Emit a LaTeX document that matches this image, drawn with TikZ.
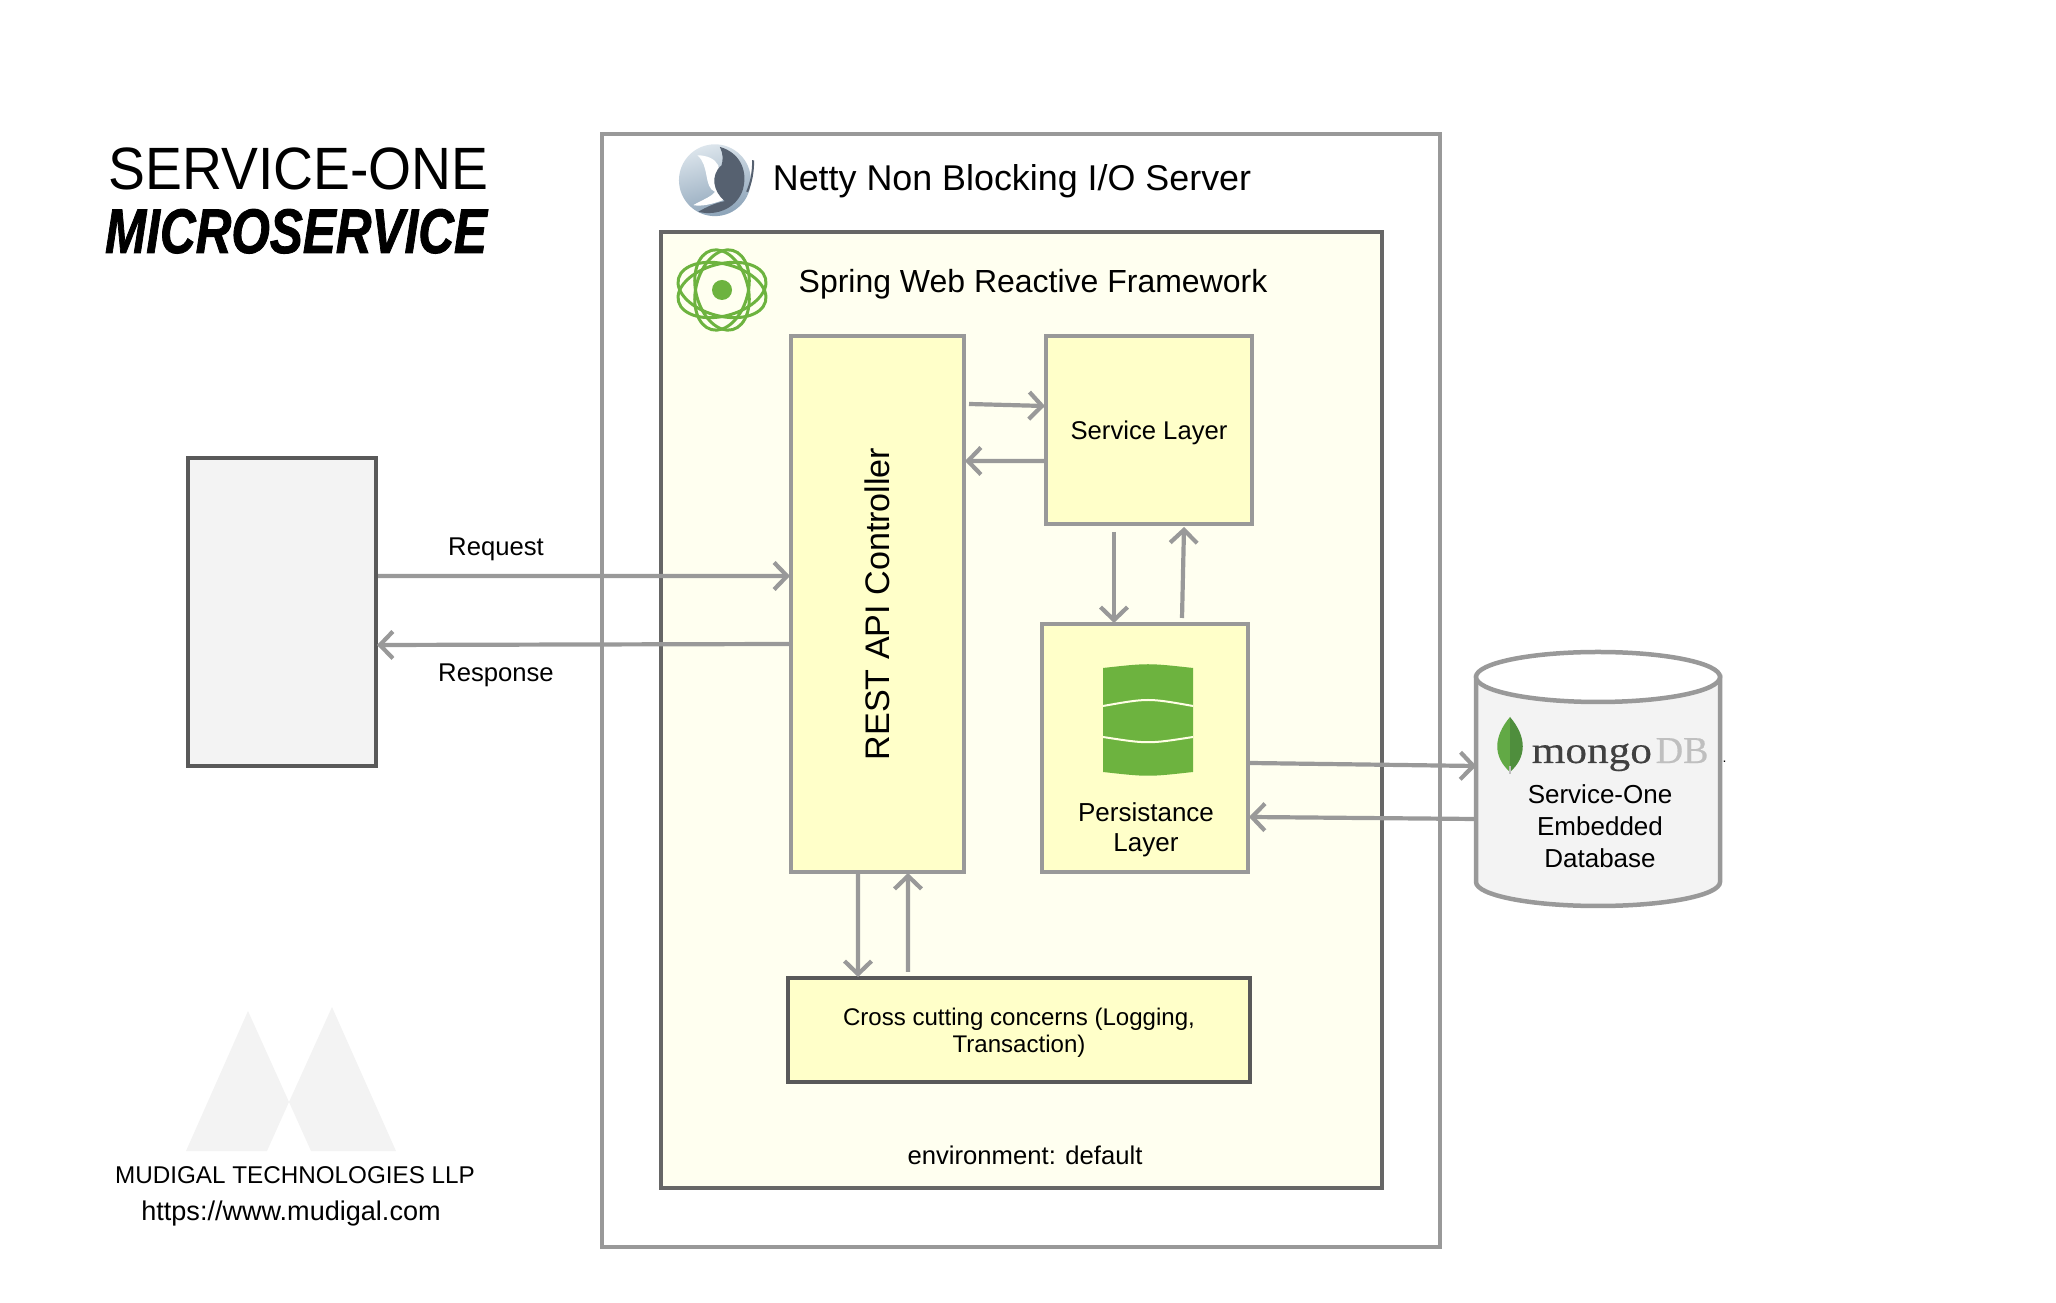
\documentclass[tikz,border=0pt]{standalone}
\usepackage{fontspec}
\setmainfont{Liberation Sans}
\newfontfamily\brushfont[FakeBold=1.5]{Liberation Sans}
\newfontfamily\mongofont[FakeBold=0.4]{Liberation Serif}
\usetikzlibrary{arrows.meta}
\definecolor{linegray}{HTML}{999999}
\definecolor{innergray}{HTML}{666666}
\definecolor{crossgray}{HTML}{595959}
\definecolor{paleyellow}{HTML}{FFFFF0}
\definecolor{boxyellow}{HTML}{FFFFC9}
\definecolor{panelgray}{HTML}{F3F3F3}
\definecolor{springgreen}{HTML}{6DB33F}
\definecolor{ballblue}{HTML}{DCE5EC}
\definecolor{balldark}{HTML}{8DA4B9}
\definecolor{wingslate}{HTML}{566170}
\definecolor{leafleft}{HTML}{62A945}
\definecolor{leafright}{HTML}{4F8E3D}
\tikzset{
    layerbox/.style={draw=linegray, line width=0.04cm, fill=boxyellow, inner sep=0pt, align=center, font=\fontsize{7.3}{8.6}\selectfont},
    textnode/.style={inner sep=0pt, align=center, font=\fontsize{7.3}{8.8}\selectfont},
    flow/.style={draw=linegray, line width=0.042cm, shorten >=-0.01cm, -{Straight Barb[length=0.13cm,width=0.27cm,line width=0.042cm]}},
}
\begin{document}
\begin{tikzpicture}
    \useasboundingbox (0,0) rectangle (20.56,13.02);

    % Title
    \node[anchor=base, inner sep=0pt] (titletop) at (2.985,11.12) {\fontsize{17}{20}\selectfont\scalebox{0.925}[1]{SERVICE-ONE}};
    \node[anchor=base, inner sep=0pt] (titlesub) at (2.96,10.49) {\fontsize{17.9}{20}\selectfont\brushfont\bfseries\itshape\scalebox{0.786}[1]{MICROSERVICE}};

    % Server and framework panels
    \node[draw=linegray, line width=0.04cm, minimum width=8.38cm, minimum height=11.13cm, inner sep=0pt] (netty) at (10.21,6.115) {};
    \node[draw=innergray, line width=0.04cm, fill=paleyellow, minimum width=7.21cm, minimum height=9.56cm, inner sep=0pt] (spring) at (10.215,5.92) {};
    \node[textnode, font=\fontsize{10.2}{12}\selectfont] (nettytext) at (10.12,11.21) {Netty Non Blocking I/O Server};
    \node[textnode, font=\fontsize{9.1}{11}\selectfont] (springtext) at (10.33,10.175) {Spring Web Reactive Framework};
    \node[textnode] (envtext) at (10.25,1.465) {environment: default};

    % Netty logo
    \begin{scope}[shift={(6.6,11.70)}, x=0.00333cm, y=-0.00333cm]
        \shade[top color=ballblue, bottom color=balldark, shading angle=15] (165,145) circle (108);
        \fill[white] (112,70) .. controls (140,70) and (165,80) .. (175,100) -- (190,205) .. controls (160,215) and (130,225) .. (100,220) .. controls (125,205) and (155,195) .. (165,180) .. controls (130,165) and (150,100) .. (112,70) -- cycle;
        \fill[wingslate] (180,45) .. controls (235,60) and (265,110) .. (250,170) .. controls (235,225) and (175,255) .. (115,240) .. controls (140,225) and (170,212) .. (195,208) .. controls (160,180) and (150,130) .. (185,100) .. controls (190,85) and (190,65) .. (180,45) -- cycle;
        \draw[wingslate, line width=0.02cm] (280,85) .. controls (280,120) and (275,150) .. (262,180);
    \end{scope}

    % Spring logo
    \foreach \ang/\len in {15/0.45,-15/0.45,75/0.41,105/0.41} {
        \draw[springgreen, line width=0.03cm, rotate around={\ang:(7.22,10.12)}] (7.22,10.12) ellipse [x radius=\len, y radius=0.26];
    }
    \fill[springgreen] (7.22,10.12) circle (0.10);

    % Layers
    \node[layerbox, minimum width=1.73cm, minimum height=5.36cm] (rest) at (8.775,6.98) {};
    \node[rotate=90, textnode, font=\fontsize{9.7}{12}\selectfont] (resttext) at (rest) {REST API Controller};
    \node[layerbox, text depth=0pt, minimum width=2.06cm, minimum height=1.88cm] (service) at (11.49,8.72) {Service Layer};
    \node[layerbox, minimum width=2.06cm, minimum height=2.48cm] (persist) at (11.45,5.54) {};
    \node[textnode, font=\fontsize{7.4}{8.6}\selectfont] (persisttext) at (11.46,4.725) {Persistance\\Layer};
    \node[layerbox, draw=crossgray, minimum width=4.62cm, minimum height=1.04cm] (cross) at (10.19,2.72) {};
    \node[textnode, font=\fontsize{6.85}{7.8}\selectfont] (crosstext) at (10.19,2.695) {Cross cutting concerns (Logging,\\Transaction)};

    % Database icon
    \fill[springgreen] (11.03,6.34) .. controls (11.48,6.39) .. (11.93,6.34) -- (11.93,5.30) .. controls (11.48,5.25) .. (11.03,5.30) -- cycle;
    \draw[white!90!yellow, line width=0.02cm] (11.03,5.96) .. controls (11.48,6.04) .. (11.93,5.96);
    \draw[white!90!yellow, line width=0.02cm] (11.03,5.65) .. controls (11.48,5.58) .. (11.93,5.65);

    % Client
    \node[draw=crossgray, line width=0.04cm, fill=panelgray, minimum width=1.88cm, minimum height=3.08cm, inner sep=0pt] (client) at (2.82,6.90) {};

    % Embedded database
    \node[minimum width=2.44cm, minimum height=2.54cm, inner sep=0pt] (mongo) at (15.98,5.23) {};
    \draw[linegray, line width=0.045cm, fill=panelgray] (14.76,6.25) -- (14.76,4.20) arc[start angle=180, end angle=360, x radius=1.22, y radius=0.24] -- (17.20,6.25) -- cycle;
    \draw[linegray, line width=0.045cm, fill=white] (15.98,6.25) ellipse (1.22 and 0.25);
    \fill[leafleft] (15.10,5.85) .. controls (14.93,5.65) and (14.93,5.45) .. (15.10,5.30) -- cycle;
    \fill[leafright] (15.10,5.85) .. controls (15.27,5.65) and (15.27,5.45) .. (15.10,5.30) -- cycle;
    \draw[black!25, line width=0.015cm] (15.10,5.36) -- (15.10,5.28);
    \node[anchor=base west, inner sep=0pt, text=black!75] (mongotext) at (15.31,5.39) {\fontsize{10.8}{12}\selectfont\mongofont\scalebox{1.14}[1]{mongo}};
    \node[anchor=base west, inner sep=0pt, text=black!25] (dbtext) at (16.55,5.39) {\fontsize{10.8}{12}\selectfont\mongofont DB};
    \node[anchor=base west, inner sep=0pt] (dbmark) at (17.22,5.39) {\fontsize{4}{5}\selectfont .};
    \node[textnode, font=\fontsize{7.4}{9.1}\selectfont] (mongolabel) at (16.00,4.76) {Service-One\\Embedded\\Database};

    % Connectors
    \draw[flow] ([yshift=0.36cm]client.east) -- ([yshift=0.28cm]rest.west);
    \draw[flow] ([yshift=-0.40cm]rest.west) -- ([yshift=-0.33cm]client.east);
    \draw[flow] ([xshift=0.03cm,yshift=2.00cm]rest.east) -- ([yshift=0.24cm]service.west);
    \draw[flow] ([yshift=-0.31cm]service.west) -- ([yshift=1.43cm]rest.east);
    \draw[flow] ([xshift=-0.35cm,yshift=-0.06cm]service.south) -- ([xshift=-0.31cm]persist.north);
    \draw[flow] ([xshift=0.37cm,yshift=0.04cm]persist.north) -- ([xshift=0.35cm,yshift=-0.02cm]service.south);
    \draw[flow] ([yshift=-0.15cm]persist.east) -- ([yshift=0.13cm]mongo.west);
    \draw[flow] ([yshift=-0.40cm]mongo.west) -- ([yshift=-0.69cm]persist.east);
    \draw[flow] ([xshift=-0.195cm]rest.south) -- ([xshift=-1.61cm]cross.north);
    \draw[flow] ([xshift=-1.11cm,yshift=0.04cm]cross.north) -- ([xshift=0.305cm]rest.south);

    \node[textnode] (requesttext) at (4.96,7.525) {Request};
    \node[textnode] (responsetext) at (4.96,6.265) {Response};

    % Company logo
    \fill[panelgray] (1.86,1.51) -- (2.48,2.91) -- (2.89,2.00) -- (2.67,1.51) -- cycle;
    \fill[panelgray] (2.89,2.00) -- (3.32,2.95) -- (3.96,1.51) -- (3.11,1.51) -- cycle;
    \node[textnode, font=\fontsize{6.9}{8}\selectfont] (company) at (2.95,1.27) {MUDIGAL TECHNOLOGIES LLP};
    \node[textnode, font=\fontsize{7.7}{9}\selectfont] (website) at (2.91,0.88) {https://www.mudigal.com};
\end{tikzpicture}
\end{document}
